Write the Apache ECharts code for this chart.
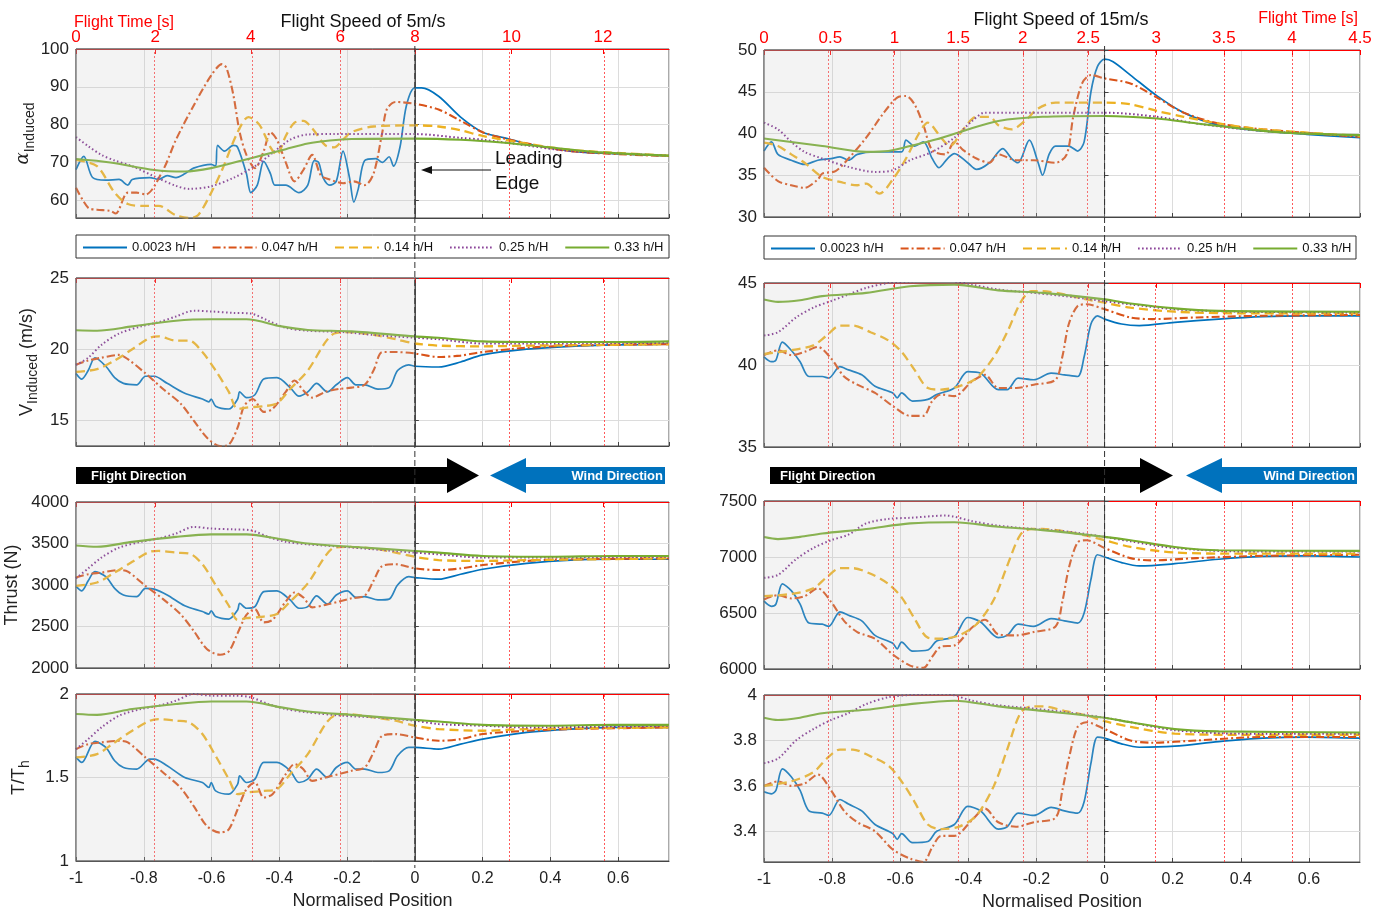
<!DOCTYPE html>
<html><head><meta charset="utf-8">
<script src="https://cdn.jsdelivr.net/npm/echarts@6/dist/echarts.min.js"></script>
<style>html,body{margin:0;padding:0;background:#fff}#c{width:1379px;height:914px}</style>
</head><body><div id="c"></div><script>
// ---------------- DATA ----------------
const seriesNames = ['0.0023 h/H','0.047 h/H','0.14 h/H','0.25 h/H','0.33 h/H'];
const timeLabelsLeft = [0,2,4,6,8,10,12];
const timePosLeft = [-1,-0.766,-0.484,-0.22,0,0.285,0.555];
const timeLabelsRight = [0,0.5,1,1.5,2,2.5,3,3.5,4,4.5];
const timePosRight = [-1,-0.805,-0.617,-0.43,-0.24,-0.048,0.152,0.35,0.55,0.75];

// alpha induced, 5 m/s
const alpha5_h0023 = [[-1,68.1],[-0.977,71.6],[-0.951,66],[-0.912,65.3],[-0.873,65.5],[-0.847,64],[-0.834,65.5],[-0.782,66],[-0.756,65.5],[-0.731,66.5],[-0.705,66],[-0.679,67],[-0.653,68.5],[-0.601,69.5],[-0.588,69],[-0.582,74.5],[-0.562,73],[-0.536,74.5],[-0.523,74],[-0.497,67],[-0.484,62],[-0.465,64],[-0.446,70.3],[-0.426,67],[-0.413,64],[-0.381,64],[-0.342,62],[-0.316,64],[-0.297,70.5],[-0.284,70],[-0.271,66],[-0.251,64],[-0.232,65],[-0.212,73],[-0.193,66],[-0.180,59.5],[-0.167,63],[-0.148,70.5],[-0.115,71],[-0.096,70],[-0.076,71.5],[-0.063,69],[-0.044,74],[-0.025,85],[0,89.7],[0.02,89.7],[0.07,87.5],[0.135,82],[0.2,78],[0.265,76.5],[0.33,75],[0.46,73],[0.59,72.3],[0.75,71.7]];
const alpha5_h047 = [[-1,63.3],[-0.964,58],[-0.938,57.5],[-0.899,57.2],[-0.883,56.5],[-0.847,62],[-0.821,62],[-0.795,61.5],[-0.743,68],[-0.705,76],[-0.653,85],[-0.601,93],[-0.569,96],[-0.556,95],[-0.536,88],[-0.517,78],[-0.497,72],[-0.472,68.5],[-0.446,73],[-0.426,78],[-0.407,76],[-0.381,70],[-0.355,65],[-0.329,68],[-0.303,72],[-0.277,66.5],[-0.251,65.5],[-0.212,64.5],[-0.180,65],[-0.148,64],[-0.122,67],[-0.096,78],[-0.083,84],[-0.057,86],[0,85.5],[0.07,84],[0.135,81],[0.2,78],[0.265,76.3],[0.46,73],[0.75,71.7]];
const alpha5_h014 = [[-1,70.7],[-0.938,69],[-0.886,62],[-0.847,59],[-0.795,58.5],[-0.756,58.5],[-0.705,56],[-0.666,55.3],[-0.640,56],[-0.601,62],[-0.569,68],[-0.523,78],[-0.491,82],[-0.459,80],[-0.426,74],[-0.407,72],[-0.381,77],[-0.355,80.5],[-0.329,81],[-0.303,79],[-0.264,74.5],[-0.238,74],[-0.212,76],[-0.187,78],[-0.122,79.5],[0,79.8],[0.07,79.5],[0.135,78.5],[0.2,77],[0.33,75],[0.46,73.3],[0.75,71.8]];
const alpha5_h025 = [[-1,76.7],[-0.964,74.3],[-0.925,72],[-0.886,70.5],[-0.834,69],[-0.769,66.3],[-0.705,63.8],[-0.666,63],[-0.601,63.7],[-0.536,65.9],[-0.472,69],[-0.420,72.5],[-0.368,76],[-0.316,77.4],[-0.238,77.5],[-0.122,77.5],[0,77.5],[0.135,76.5],[0.2,76],[0.33,74.5],[0.46,73],[0.75,71.8]];
const alpha5_h033 = [[-1,70.9],[-0.899,70],[-0.769,68],[-0.679,67.6],[-0.601,68.5],[-0.510,70.5],[-0.446,72],[-0.381,73.5],[-0.316,75],[-0.251,75.8],[-0.187,76.2],[0,76.3],[0.135,76],[0.265,75.2],[0.395,74],[0.525,72.8],[0.75,71.8]];

// alpha induced, 15 m/s
const alpha15_h0023 = [[-1,37.9],[-0.978,39],[-0.959,37.5],[-0.920,36.8],[-0.881,36.3],[-0.842,36.8],[-0.803,37],[-0.777,37.2],[-0.752,36.8],[-0.726,37.5],[-0.674,37.8],[-0.596,37.8],[-0.583,39.2],[-0.558,38.5],[-0.532,39],[-0.506,37],[-0.486,35.9],[-0.461,37],[-0.441,37.6],[-0.402,36.5],[-0.376,35.7],[-0.338,36.5],[-0.299,38.2],[-0.273,37],[-0.254,36.5],[-0.221,39.2],[-0.195,36.5],[-0.182,35],[-0.163,37.5],[-0.144,38.5],[-0.105,38.5],[-0.079,37.9],[-0.060,39],[-0.040,45],[-0.021,48],[0,48.9],[0.025,48.6],[0.076,47],[0.154,44.5],[0.232,42.5],[0.335,41],[0.464,40.3],[0.594,39.9],[0.75,39.5]];
const alpha15_h047 = [[-1,35.9],[-0.959,34.3],[-0.920,33.8],[-0.881,33.5],[-0.842,34.5],[-0.829,35.2],[-0.790,35.5],[-0.752,37],[-0.700,39.5],[-0.648,42.5],[-0.609,44.3],[-0.583,44.5],[-0.558,43.5],[-0.532,41],[-0.506,38],[-0.467,37.5],[-0.441,39],[-0.415,38],[-0.376,37],[-0.338,36.5],[-0.312,37.5],[-0.260,36.8],[-0.208,36.8],[-0.144,36.5],[-0.111,37.5],[-0.092,42],[-0.066,46],[-0.040,47],[0,46.6],[0.076,46],[0.154,44.3],[0.232,42.5],[0.335,41.2],[0.464,40.5],[0.75,39.6]];
const alpha15_h014 = [[-1,38.9],[-0.959,38.5],[-0.920,37.5],[-0.881,36.5],[-0.829,34.8],[-0.777,34.2],[-0.726,33.8],[-0.700,34],[-0.661,32.8],[-0.622,34.5],[-0.583,37],[-0.545,40],[-0.519,41.3],[-0.480,39.5],[-0.454,38.5],[-0.415,40.5],[-0.376,42],[-0.338,42],[-0.312,41],[-0.273,40.5],[-0.234,41.5],[-0.195,43],[-0.144,43.7],[0,43.7],[0.076,43.5],[0.154,42.7],[0.232,42],[0.335,41.2],[0.464,40.5],[0.75,39.7]];
const alpha15_h025 = [[-1,41.3],[-0.959,40.5],[-0.920,39],[-0.881,37.8],[-0.829,37],[-0.752,36],[-0.674,35.4],[-0.622,35.6],[-0.571,36.8],[-0.506,37.8],[-0.441,39.5],[-0.389,41.5],[-0.351,42.5],[-0.286,42.5],[-0.182,42.5],[0,42.5],[0.154,42],[0.270,41.2],[0.464,40.3],[0.75,39.7]];
const alpha15_h033 = [[-1,39.4],[-0.829,38.5],[-0.700,37.8],[-0.635,37.9],[-0.571,38.5],[-0.493,39.3],[-0.415,40.3],[-0.312,41.5],[-0.182,42],[0,42.1],[0.154,41.8],[0.270,41.2],[0.40,40.6],[0.529,40.1],[0.75,39.8]];

// V induced, 5 m/s
const vind5_h0023 = [[-1,18.3],[-0.983,17.9],[-0.964,18.5],[-0.944,19.4],[-0.912,18.8],[-0.886,18.0],[-0.860,17.6],[-0.821,17.5],[-0.795,18.1],[-0.769,18.1],[-0.731,17.6],[-0.679,16.9],[-0.627,16.5],[-0.608,16.3],[-0.601,16.5],[-0.588,16.0],[-0.549,15.8],[-0.523,16.5],[-0.517,17.0],[-0.497,16.6],[-0.472,16.8],[-0.446,17.9],[-0.407,18.0],[-0.368,17.3],[-0.342,16.7],[-0.316,17.0],[-0.290,17.6],[-0.258,17.0],[-0.232,17.5],[-0.199,18.0],[-0.174,17.5],[-0.148,17.5],[-0.109,17.2],[-0.076,17.3],[-0.051,18.5],[-0.018,18.9],[0,18.8],[0.07,18.75],[0.135,19.1],[0.2,19.6],[0.33,20.0],[0.46,20.2],[0.59,20.3],[0.75,20.35]];
const vind5_h047 = [[-1,18.9],[-0.964,19.2],[-0.925,19.4],[-0.873,19.6],[-0.847,19.3],[-0.795,18.3],[-0.743,17.2],[-0.692,16.2],[-0.653,15.0],[-0.614,13.8],[-0.575,13.2],[-0.549,13.3],[-0.523,14.5],[-0.504,16.0],[-0.478,16.5],[-0.446,15.6],[-0.420,15.8],[-0.381,17.0],[-0.355,17.8],[-0.329,17.1],[-0.303,16.6],[-0.264,17.0],[-0.225,17.2],[-0.187,17.3],[-0.148,17.5],[-0.122,18.5],[-0.096,19.8],[-0.057,19.8],[0,19.7],[0.07,19.45],[0.135,19.55],[0.2,19.8],[0.33,20.1],[0.46,20.25],[0.75,20.35]];
const vind5_h014 = [[-1,18.4],[-0.938,18.6],[-0.886,19.2],[-0.834,20.0],[-0.782,20.8],[-0.756,20.9],[-0.705,20.6],[-0.666,20.6],[-0.627,19.8],[-0.588,18.5],[-0.549,17.0],[-0.523,15.8],[-0.497,15.9],[-0.446,16.0],[-0.407,16.2],[-0.368,17.2],[-0.316,18.5],[-0.264,20.5],[-0.238,21.1],[-0.199,21.2],[-0.122,21.0],[-0.057,20.7],[0,20.4],[0.07,20.25],[0.2,20.2],[0.33,20.25],[0.75,20.35]];
const vind5_h025 = [[-1,18.9],[-0.964,19.4],[-0.925,20.3],[-0.873,21.1],[-0.808,21.6],[-0.756,21.9],[-0.705,22.3],[-0.653,22.7],[-0.601,22.65],[-0.536,22.55],[-0.484,22.5],[-0.433,22.0],[-0.381,21.5],[-0.316,21.3],[-0.212,21.2],[-0.122,21.0],[0,20.8],[0.07,20.7],[0.2,20.4],[0.33,20.4],[0.75,20.45]];
const vind5_h033 = [[-1,21.33],[-0.938,21.3],[-0.834,21.6],[-0.705,22.0],[-0.601,22.1],[-0.497,22.1],[-0.394,21.6],[-0.316,21.35],[-0.187,21.25],[0,20.9],[0.07,20.8],[0.2,20.55],[0.395,20.5],[0.59,20.5],[0.75,20.55]];

// V induced, 15 m/s
const vind15_h0023 = [[-1,40.5],[-0.978,40.2],[-0.965,40.3],[-0.946,41.4],[-0.920,40.9],[-0.894,40.2],[-0.868,39.3],[-0.829,39.3],[-0.810,39.2],[-0.777,39.9],[-0.752,39.7],[-0.713,39.4],[-0.674,38.7],[-0.622,38.3],[-0.609,38.0],[-0.596,38.3],[-0.564,37.8],[-0.519,37.9],[-0.493,38.2],[-0.441,38.6],[-0.402,39.6],[-0.364,39.5],[-0.312,38.5],[-0.286,38.5],[-0.254,39.2],[-0.208,39.1],[-0.157,39.5],[-0.118,39.4],[-0.079,39.3],[-0.060,40.5],[-0.040,42.5],[-0.021,43.0],[0,42.8],[0.05,42.5],[0.102,42.4],[0.206,42.6],[0.335,42.8],[0.464,42.95],[0.594,43.0],[0.75,43.0]];
const vind15_h047 = [[-1,40.6],[-0.959,40.9],[-0.920,40.6],[-0.881,40.8],[-0.842,41.1],[-0.803,40.4],[-0.765,39.3],[-0.726,38.8],[-0.674,38.3],[-0.622,37.5],[-0.571,36.9],[-0.532,36.9],[-0.506,37.8],[-0.480,38.2],[-0.441,38.1],[-0.389,39.0],[-0.351,39.4],[-0.312,38.6],[-0.260,38.6],[-0.208,38.8],[-0.144,39.1],[-0.124,40.5],[-0.105,42.5],[-0.079,43.6],[-0.053,43.7],[0,43.4],[0.076,42.9],[0.141,42.8],[0.270,42.9],[0.464,43.0],[0.75,43.05]];
const vind15_h014 = [[-1,40.67],[-0.920,40.9],[-0.855,41.2],[-0.816,41.8],[-0.777,42.4],[-0.739,42.4],[-0.687,42.0],[-0.635,41.5],[-0.596,40.8],[-0.558,39.7],[-0.519,38.6],[-0.480,38.5],[-0.428,38.7],[-0.376,39.2],[-0.325,40.5],[-0.286,42.0],[-0.247,43.8],[-0.215,44.5],[-0.182,44.5],[-0.118,44.3],[-0.053,44.0],[0,43.8],[0.076,43.5],[0.206,43.25],[0.40,43.15],[0.75,43.15]];
const vind15_h025 = [[-1,41.8],[-0.959,42.0],[-0.906,42.9],[-0.855,43.5],[-0.803,43.9],[-0.752,44.3],[-0.700,44.7],[-0.635,45.0],[-0.571,45.1],[-0.467,45.15],[-0.389,44.9],[-0.312,44.6],[-0.208,44.4],[-0.118,44.2],[0,43.9],[0.076,43.7],[0.206,43.4],[0.40,43.25],[0.75,43.2]];
const vind15_h033 = [[-1,44.0],[-0.959,43.85],[-0.894,43.95],[-0.829,44.2],[-0.700,44.4],[-0.571,44.8],[-0.441,44.9],[-0.312,44.55],[-0.182,44.4],[0,44.0],[0.076,43.75],[0.206,43.45],[0.335,43.3],[0.75,43.25]];

// Thrust, 5 m/s
const thrust5_h0023 = [[-1,2984],[-0.983,2930],[-0.964,3050],[-0.944,3160],[-0.912,3100],[-0.886,2960],[-0.860,2880],[-0.821,2860],[-0.795,2960],[-0.769,2950],[-0.731,2880],[-0.679,2750],[-0.627,2680],[-0.608,2650],[-0.601,2690],[-0.588,2620],[-0.549,2590],[-0.523,2700],[-0.517,2780],[-0.497,2720],[-0.472,2740],[-0.446,2920],[-0.407,2930],[-0.368,2820],[-0.342,2720],[-0.316,2740],[-0.290,2870],[-0.258,2770],[-0.232,2880],[-0.199,2930],[-0.174,2850],[-0.148,2860],[-0.109,2820],[-0.076,2830],[-0.051,3000],[-0.018,3100],[0,3090],[0.07,3070],[0.135,3130],[0.2,3190],[0.33,3260],[0.46,3300],[0.59,3310],[0.75,3310]];
const thrust5_h047 = [[-1,3090],[-0.964,3130],[-0.925,3150],[-0.873,3180],[-0.847,3160],[-0.795,2990],[-0.743,2830],[-0.692,2650],[-0.653,2450],[-0.614,2230],[-0.575,2160],[-0.549,2200],[-0.523,2420],[-0.497,2640],[-0.472,2710],[-0.446,2550],[-0.420,2580],[-0.381,2800],[-0.355,2910],[-0.329,2850],[-0.303,2730],[-0.264,2760],[-0.225,2800],[-0.187,2840],[-0.148,2870],[-0.122,3050],[-0.096,3230],[-0.057,3250],[0,3200],[0.07,3180],[0.135,3200],[0.2,3240],[0.33,3290],[0.46,3310],[0.75,3320]];
const thrust5_h014 = [[-1,2990],[-0.938,3030],[-0.886,3150],[-0.834,3280],[-0.782,3400],[-0.756,3410],[-0.705,3390],[-0.666,3380],[-0.627,3250],[-0.588,3000],[-0.549,2750],[-0.523,2580],[-0.497,2600],[-0.446,2620],[-0.407,2650],[-0.368,2800],[-0.316,3020],[-0.264,3350],[-0.238,3450],[-0.199,3460],[-0.122,3440],[-0.057,3390],[0,3340],[0.07,3300],[0.2,3290],[0.33,3300],[0.75,3320]];
const thrust5_h025 = [[-1,3080],[-0.964,3200],[-0.925,3330],[-0.873,3450],[-0.808,3520],[-0.756,3560],[-0.705,3620],[-0.653,3700],[-0.601,3680],[-0.536,3670],[-0.484,3660],[-0.433,3580],[-0.381,3520],[-0.316,3490],[-0.212,3460],[-0.122,3430],[0,3390],[0.07,3370],[0.2,3330],[0.33,3330],[0.75,3340]];
const thrust5_h033 = [[-1,3476],[-0.938,3460],[-0.834,3520],[-0.705,3580],[-0.601,3610],[-0.497,3610],[-0.394,3550],[-0.316,3500],[-0.187,3460],[0,3410],[0.07,3390],[0.2,3350],[0.395,3340],[0.59,3350],[0.75,3350]];

// Thrust, 15 m/s
const thrust15_h0023 = [[-1,6606],[-0.978,6560],[-0.965,6580],[-0.946,6760],[-0.920,6700],[-0.894,6580],[-0.868,6410],[-0.829,6400],[-0.810,6380],[-0.777,6510],[-0.752,6480],[-0.713,6430],[-0.674,6300],[-0.622,6230],[-0.609,6180],[-0.596,6240],[-0.564,6160],[-0.519,6170],[-0.493,6250],[-0.441,6290],[-0.402,6460],[-0.364,6420],[-0.312,6280],[-0.286,6300],[-0.254,6400],[-0.208,6380],[-0.157,6450],[-0.118,6430],[-0.079,6410],[-0.060,6500],[-0.040,6800],[-0.021,7020],[0,7000],[0.05,6950],[0.102,6920],[0.206,6940],[0.335,6980],[0.464,7005],[0.594,7010],[0.75,7000]];
const thrust15_h047 = [[-1,6620],[-0.959,6660],[-0.920,6630],[-0.881,6650],[-0.842,6720],[-0.803,6600],[-0.765,6430],[-0.726,6330],[-0.674,6270],[-0.622,6130],[-0.571,6030],[-0.532,6010],[-0.506,6110],[-0.480,6200],[-0.441,6210],[-0.389,6370],[-0.351,6440],[-0.312,6310],[-0.260,6300],[-0.208,6330],[-0.144,6380],[-0.124,6600],[-0.105,6900],[-0.079,7130],[-0.053,7150],[0,7080],[0.076,6990],[0.141,6970],[0.270,6990],[0.464,7010],[0.75,7020]];
const thrust15_h014 = [[-1,6650],[-0.920,6670],[-0.855,6720],[-0.816,6820],[-0.777,6900],[-0.739,6900],[-0.687,6850],[-0.635,6760],[-0.596,6640],[-0.558,6450],[-0.519,6280],[-0.480,6270],[-0.428,6300],[-0.376,6400],[-0.325,6620],[-0.286,6920],[-0.247,7200],[-0.215,7250],[-0.182,7250],[-0.118,7230],[-0.053,7190],[0,7150],[0.076,7090],[0.206,7040],[0.40,7030],[0.75,7030]];
const thrust15_h025 = [[-1,6814],[-0.959,6840],[-0.906,6980],[-0.855,7080],[-0.803,7150],[-0.752,7200],[-0.700,7300],[-0.635,7340],[-0.571,7350],[-0.467,7370],[-0.389,7320],[-0.312,7280],[-0.208,7250],[-0.118,7230],[0,7180],[0.076,7140],[0.206,7080],[0.40,7050],[0.75,7050]];
const thrust15_h033 = [[-1,7178],[-0.959,7160],[-0.894,7180],[-0.829,7210],[-0.700,7250],[-0.571,7300],[-0.441,7310],[-0.312,7270],[-0.182,7240],[0,7180],[0.076,7150],[0.206,7090],[0.335,7060],[0.75,7055]];

// T/Th, 5 m/s
const tth5_h0023 = [[-1,1.622],[-0.983,1.59],[-0.944,1.716],[-0.912,1.68],[-0.886,1.60],[-0.860,1.56],[-0.821,1.55],[-0.782,1.61],[-0.769,1.61],[-0.731,1.57],[-0.679,1.50],[-0.627,1.47],[-0.608,1.44],[-0.601,1.47],[-0.588,1.42],[-0.549,1.40],[-0.523,1.46],[-0.517,1.51],[-0.497,1.47],[-0.472,1.49],[-0.446,1.59],[-0.407,1.59],[-0.368,1.54],[-0.342,1.47],[-0.316,1.49],[-0.290,1.55],[-0.258,1.50],[-0.232,1.56],[-0.199,1.59],[-0.174,1.55],[-0.148,1.55],[-0.109,1.53],[-0.076,1.54],[-0.051,1.63],[-0.018,1.68],[0,1.68],[0.07,1.67],[0.135,1.70],[0.2,1.73],[0.33,1.77],[0.46,1.79],[0.59,1.80],[0.75,1.80]];
const tth5_h047 = [[-1,1.67],[-0.964,1.70],[-0.925,1.71],[-0.873,1.72],[-0.847,1.71],[-0.795,1.62],[-0.743,1.53],[-0.692,1.44],[-0.653,1.33],[-0.614,1.21],[-0.575,1.17],[-0.549,1.19],[-0.523,1.31],[-0.497,1.43],[-0.472,1.47],[-0.446,1.38],[-0.420,1.40],[-0.381,1.52],[-0.355,1.58],[-0.329,1.55],[-0.303,1.48],[-0.264,1.50],[-0.225,1.52],[-0.187,1.54],[-0.148,1.56],[-0.122,1.65],[-0.096,1.75],[-0.057,1.76],[0,1.74],[0.07,1.72],[0.135,1.73],[0.2,1.76],[0.33,1.78],[0.46,1.79],[0.75,1.80]];
const tth5_h014 = [[-1,1.62],[-0.938,1.64],[-0.886,1.71],[-0.834,1.78],[-0.782,1.84],[-0.756,1.85],[-0.705,1.84],[-0.666,1.83],[-0.627,1.76],[-0.588,1.63],[-0.549,1.49],[-0.523,1.40],[-0.497,1.41],[-0.446,1.42],[-0.407,1.43],[-0.368,1.52],[-0.316,1.64],[-0.264,1.82],[-0.238,1.87],[-0.199,1.88],[-0.122,1.86],[-0.057,1.84],[0,1.81],[0.07,1.79],[0.2,1.78],[0.33,1.79],[0.75,1.80]];
const tth5_h025 = [[-1,1.67],[-0.964,1.73],[-0.925,1.80],[-0.873,1.87],[-0.808,1.91],[-0.756,1.93],[-0.705,1.96],[-0.653,2.0],[-0.601,1.99],[-0.536,1.99],[-0.484,1.98],[-0.433,1.94],[-0.381,1.91],[-0.316,1.89],[-0.212,1.87],[-0.122,1.86],[0,1.84],[0.07,1.82],[0.2,1.81],[0.33,1.80],[0.75,1.81]];
const tth5_h033 = [[-1,1.88],[-0.938,1.875],[-0.834,1.91],[-0.705,1.94],[-0.601,1.955],[-0.497,1.955],[-0.394,1.92],[-0.316,1.895],[-0.187,1.875],[0,1.845],[0.07,1.835],[0.2,1.815],[0.395,1.81],[0.59,1.815],[0.75,1.815]];

// T/Th, 15 m/s
const tth15_h0023 = [[-1,3.574],[-0.978,3.565],[-0.965,3.58],[-0.946,3.675],[-0.920,3.64],[-0.894,3.58],[-0.868,3.49],[-0.829,3.48],[-0.810,3.47],[-0.777,3.54],[-0.752,3.52],[-0.713,3.49],[-0.674,3.43],[-0.622,3.39],[-0.609,3.365],[-0.596,3.39],[-0.564,3.35],[-0.519,3.355],[-0.493,3.40],[-0.441,3.43],[-0.402,3.51],[-0.364,3.49],[-0.312,3.41],[-0.286,3.42],[-0.254,3.48],[-0.208,3.47],[-0.157,3.505],[-0.118,3.49],[-0.079,3.48],[-0.060,3.53],[-0.040,3.70],[-0.021,3.815],[0,3.81],[0.05,3.785],[0.102,3.77],[0.206,3.775],[0.335,3.795],[0.464,3.81],[0.594,3.815],[0.75,3.81]];
const tth15_h047 = [[-1,3.60],[-0.959,3.62],[-0.920,3.60],[-0.881,3.61],[-0.842,3.65],[-0.803,3.58],[-0.765,3.49],[-0.726,3.44],[-0.674,3.40],[-0.622,3.32],[-0.571,3.28],[-0.532,3.265],[-0.506,3.33],[-0.480,3.38],[-0.441,3.38],[-0.389,3.45],[-0.351,3.50],[-0.312,3.44],[-0.260,3.42],[-0.208,3.44],[-0.144,3.46],[-0.124,3.58],[-0.105,3.72],[-0.079,3.86],[-0.053,3.88],[0,3.85],[0.076,3.80],[0.141,3.79],[0.270,3.80],[0.464,3.815],[0.75,3.815]];
const tth15_h014 = [[-1,3.60],[-0.920,3.62],[-0.855,3.66],[-0.816,3.72],[-0.777,3.76],[-0.739,3.76],[-0.687,3.73],[-0.635,3.69],[-0.596,3.62],[-0.558,3.53],[-0.519,3.43],[-0.480,3.41],[-0.428,3.42],[-0.376,3.47],[-0.325,3.60],[-0.286,3.76],[-0.247,3.92],[-0.215,3.95],[-0.182,3.95],[-0.118,3.93],[-0.053,3.91],[0,3.885],[0.076,3.86],[0.206,3.83],[0.40,3.825],[0.75,3.825]];
const tth15_h025 = [[-1,3.70],[-0.959,3.72],[-0.906,3.80],[-0.855,3.85],[-0.803,3.89],[-0.752,3.92],[-0.700,3.96],[-0.635,3.99],[-0.571,4.0],[-0.467,4.005],[-0.389,3.975],[-0.312,3.955],[-0.208,3.94],[-0.118,3.925],[0,3.90],[0.076,3.88],[0.206,3.845],[0.40,3.83],[0.75,3.83]];
const tth15_h033 = [[-1,3.90],[-0.959,3.89],[-0.894,3.90],[-0.829,3.92],[-0.700,3.935],[-0.571,3.96],[-0.441,3.975],[-0.312,3.95],[-0.182,3.93],[0,3.90],[0.076,3.88],[0.206,3.85],[0.335,3.84],[0.75,3.835]];

// ---------------- STYLE / LAYOUT ----------------
const FONT = '"Liberation Sans", Arial, Helvetica, sans-serif';
const seriesColors = ['#0072BD','#D95319','#EDB120','#7E2F8E','#77AC30'];
const lineStyles = [
  {type:'solid', width:1.7},
  {type:[8,3,2,3], width:2.1},
  {type:[9,5], width:2.3},
  {type:[1.5,2.5], width:2},
  {type:'solid', width:2.1}
];
const panels = [
  {data:[alpha5_h0023,alpha5_h047,alpha5_h014,alpha5_h025,alpha5_h033], min:55.3, max:100, step:10, name:'{a|α}{s|Induced}', gap:38},
  {data:[alpha15_h0023,alpha15_h047,alpha15_h014,alpha15_h025,alpha15_h033], min:30, max:50, step:5},
  {data:[vind5_h0023,vind5_h047,vind5_h014,vind5_h025,vind5_h033], min:13.2, max:25, step:5, name:'{g|V}{s|Induced}{g| (m/s)}', gap:36},
  {data:[vind15_h0023,vind15_h047,vind15_h014,vind15_h025,vind15_h033], min:35, max:45, step:5},
  {data:[thrust5_h0023,thrust5_h047,thrust5_h014,thrust5_h025,thrust5_h033], min:2000, max:4000, step:500, name:'{g|Thrust (N)}', gap:51},
  {data:[thrust15_h0023,thrust15_h047,thrust15_h014,thrust15_h025,thrust15_h033], min:6000, max:7500, step:500},
  {data:[tth5_h0023,tth5_h047,tth5_h014,tth5_h025,tth5_h033], min:1, max:2, step:0.5, name:'{g|T/T}{s|h}', gap:44},
  {data:[tth15_h0023,tth15_h047,tth15_h014,tth15_h025,tth15_h033], min:3.265, max:4, step:0.2}
];
const gridBoxes = [[76,49,593,169],[764,50,596,167],[76,278,593,168],[764,283,596,164],[76,502,593,166],[764,501,596,168],[76,694,593,167],[764,695,596,167]];

const grid=[], xAxis=[], yAxis=[], series=[];
panels.forEach((p,i)=>{
  const [l,t,w,h] = gridBoxes[i];
  const leftCol = i%2===0, isBottom = i>=6, isTop = i<2;
  const tp = leftCol?timePosLeft:timePosRight, tl = leftCol?timeLabelsLeft:timeLabelsRight;
  grid.push({left:l, top:t, width:w, height:h, show:true, borderColor:'#555', borderWidth:1, backgroundColor:'transparent'});
  xAxis.push({type:'value', gridIndex:i, position:'bottom', min:-1, max:0.75, interval:0.2,
    axisLine:{show:true, lineStyle:{color:'#444'}},
    axisTick:{show:true, inside:true, length:4, lineStyle:{color:'#444'}},
    axisLabel:{show:isBottom, showMaxLabel:false, fontSize:16, color:'#222', margin:10, fontFamily:FONT},
    splitLine:{show:true, lineStyle:{color:'#dcdcdc', width:1}},
    name:isBottom?'Normalised Position':'', nameLocation:'middle', nameGap:31,
    nameTextStyle:{fontSize:18, color:'#222', fontFamily:FONT}});
  xAxis.push({type:'value', gridIndex:i, position:'top', min:-1, max:0.75,
    axisLine:{show:true, lineStyle:{color:'#ff0000', width:1}},
    axisTick:{show:true, inside:true, length:5, customValues:tp, lineStyle:{color:'#ff0000'}},
    axisLabel:{show:isTop, customValues:tp, color:'#ff0000', fontSize:17, margin:3, fontFamily:FONT,
      formatter:v=>{let k=0; tp.forEach((x,j)=>{ if(Math.abs(x-v)<Math.abs(tp[k]-v)) k=j; }); return String(tl[k]);}},
    splitLine:{show:false}});
  const y = {type:'value', gridIndex:i, min:p.min, max:p.max,
    axisLine:{show:true, lineStyle:{color:'#444'}},
    axisTick:{show:true, inside:true, length:4, lineStyle:{color:'#444'}},
    axisLabel:{fontSize:17, color:'#222', margin:7, fontFamily:FONT, formatter:v=>String(Math.round(v*1000)/1000)},
    splitLine:{show:true, lineStyle:{color:'#dcdcdc', width:1}}};
  const ratio = p.min/p.step;
  if (Math.abs(ratio-Math.round(ratio))<1e-9) { y.interval = p.step; }
  else { y.minInterval = p.step; y.maxInterval = p.step; y.axisLabel.showMinLabel = false; }
  if (p.name) {
    y.name = p.name; y.nameLocation='middle'; y.nameRotate=90; y.nameGap=p.gap;
    y.nameTextStyle = {fontFamily:FONT, color:'#222', rich:{
      g:{fontSize:18, color:'#222', fontFamily:FONT, lineHeight:26, verticalAlign:'middle'},
      a:{fontSize:18, color:'#222', fontFamily:'"DejaVu Serif", serif', fontStyle:'italic', lineHeight:26, verticalAlign:'middle'},
      s:{fontSize:14, color:'#222', fontFamily:FONT, verticalAlign:'bottom', lineHeight:15}
    }};
  }
  yAxis.push(y);
  p.data.forEach((d,k)=>{
    const s = {type:'line', name:seriesNames[k], xAxisIndex:2*i, yAxisIndex:i, data:d, symbol:'none',
      smooth:0.3, silent:true, z:2,
      lineStyle:Object.assign({color:seriesColors[k], cap:'butt'}, lineStyles[k]),
      itemStyle:{color:seriesColors[k]}};
    if (k===0) s.markLine = {silent:true, symbol:'none', label:{show:false}, animation:false,
      lineStyle:{color:'#ff3030', type:[2,2], width:0.8},
      data: tp.filter(x=>x>-0.999 && x<0.749 && Math.abs(x)>1e-6).map(x=>({xAxis:x}))};
    series.push(s);
  });
  series.push({type:'custom', xAxisIndex:2*i, yAxisIndex:i, data:[[-1,p.min]], z:5, silent:true, clip:false,
    renderItem:(params, api)=>{
      const a = api.coord([-1, p.max]), b = api.coord([0, p.min]);
      return {type:'rect', shape:{x:a[0], y:a[1], width:b[0]-a[0], height:b[1]-a[1]},
        style:{fill:'rgba(200,200,200,0.22)', stroke:'#6a6a6a', lineWidth:1}};
    }});
});

const legendCommon = {data:seriesNames, itemWidth:44, itemHeight:10, itemGap:16, selectedMode:false,
  itemStyle:{opacity:0}, textStyle:{fontSize:13, color:'#111', fontFamily:FONT}, padding:0};

const chart = echarts.init(document.getElementById('c'), null, {renderer:'canvas'});
chart.setOption({
  animation:false, backgroundColor:'#fff', textStyle:{fontFamily:FONT},
  grid, xAxis, yAxis, series,
  legend:[Object.assign({left:82, top:241}, legendCommon), Object.assign({left:770, top:242}, legendCommon)]
});

const x0L = chart.convertToPixel({xAxisIndex:0}, 0);
const x0R = chart.convertToPixel({xAxisIndex:2}, 0);
const arrow = (pts, color)=>({type:'polygon', shape:{points:pts}, style:{fill:color}, z:50});
const txt = (x,y,text,opt)=>({type:'text', x, y, z:60, style:Object.assign({text, fontFamily:FONT, fill:'#111', fontSize:17, verticalAlign:'middle'}, opt)});
chart.setOption({graphic:{elements:[
  {type:'rect', shape:{x:76, y:235, width:593, height:23}, style:{fill:'none', stroke:'#333', lineWidth:1}, z:40},
  {type:'rect', shape:{x:764, y:236, width:592, height:23}, style:{fill:'none', stroke:'#333', lineWidth:1}, z:40},
  arrow([[76,467],[447,467],[447,458],[479,475.5],[447,493],[447,484],[76,484]], '#000'),
  arrow([[490,475.5],[526,458],[526,467],[665,467],[665,484],[526,484],[526,493]], '#0072BD'),
  arrow([[770,467],[1140,467],[1140,458],[1173,475.5],[1140,493],[1140,484],[770,484]], '#000'),
  arrow([[1186,475.5],[1222,458],[1222,467],[1357,467],[1357,484],[1222,484],[1222,493]], '#0072BD'),
  txt(91,476,'Flight Direction',{fill:'#fff', fontSize:13, fontWeight:'bold'}),
  txt(663,476,'Wind Direction',{fill:'#fff', fontSize:13, fontWeight:'bold', align:'right'}),
  txt(780,476,'Flight Direction',{fill:'#fff', fontSize:13, fontWeight:'bold'}),
  txt(1355,476,'Wind Direction',{fill:'#fff', fontSize:13, fontWeight:'bold', align:'right'}),
  {type:'line', shape:{x1:x0L, y1:46, x2:x0L, y2:868}, style:{stroke:'#333', lineWidth:1, lineDash:[6,3]}, z:100},
  {type:'line', shape:{x1:x0R, y1:46, x2:x0R, y2:868}, style:{stroke:'#333', lineWidth:1, lineDash:[6,3]}, z:100},
  txt(363,22,'Flight Speed of 5m/s',{align:'center', fontSize:18}),
  txt(1061,20,'Flight Speed of 15m/s',{align:'center', fontSize:18}),
  txt(74,23,'Flight Time [s]',{fill:'#ff0000', fontSize:16}),
  txt(1358,19,'Flight Time [s]',{fill:'#ff0000', fontSize:16, align:'right'}),
  txt(495,159,'Leading',{fontSize:19}),
  txt(495,184,'Edge',{fontSize:19}),
  {type:'line', shape:{x1:491, y1:170, x2:428, y2:170}, style:{stroke:'#111', lineWidth:1}, z:60},
  {type:'polygon', shape:{points:[[421,170],[432,166],[432,174]]}, style:{fill:'#111'}, z:60}
]}});
</script></body></html>
